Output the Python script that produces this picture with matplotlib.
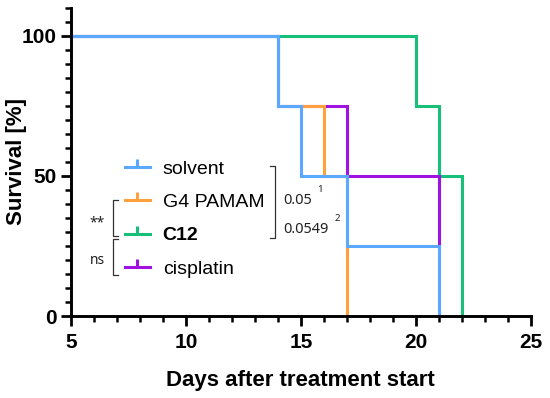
import matplotlib.pyplot as plt
from matplotlib.lines import Line2D
from matplotlib.ticker import MultipleLocator

# survival curves (day of event, survival % after it)
groups = ['solvent', 'G4 PAMAM', 'C12', 'cisplatin']
colors = ['#5aa8ff', '#ffa040', '#16c078', '#a012e0']
days = {
    'solvent':   [5, 14, 15, 17, 21],
    'G4 PAMAM':  [5, 14, 16, 17],
    'C12':       [5, 20, 21, 22],
    'cisplatin': [5, 14, 17, 21],
}
surv = {
    'solvent':   [100, 75, 50, 25, 0],
    'G4 PAMAM':  [100, 75, 50, 0],
    'C12':       [100, 75, 50, 0],
    'cisplatin': [100, 75, 50, 0],
}
pvals = ['0.05', '0.0549']
sig = ['**', 'ns']

plt.rcParams['font.family'] = ['Liberation Sans', 'DejaVu Sans']

fig = plt.figure(figsize=(5.5, 3.98), dpi=100)
ax = fig.add_axes([0.129, 0.206, 0.836, 0.774])

# drawing order: green at the bottom, blue on top
order = ['C12', 'cisplatin', 'G4 PAMAM', 'solvent']
for g in order:
    c = colors[groups.index(g)]
    ax.plot(days[g], surv[g], drawstyle='steps-post', color=c, lw=2.2,
            clip_on=False, solid_joinstyle='miter')

ax.set_xlim(5, 25)
ax.set_ylim(0, 110)
ax.set_xticks([5, 10, 15, 20, 25])
ax.set_yticks([0, 50, 100])
ax.xaxis.set_minor_locator(MultipleLocator(1))
ax.yaxis.set_minor_locator(MultipleLocator(5))
for s in ['top', 'right']:
    ax.spines[s].set_visible(False)
for s in ['left', 'bottom']:
    ax.spines[s].set_linewidth(2.1)
ax.tick_params(which='major', length=7.5, width=2.0, labelsize=15)
ax.tick_params(which='minor', length=4.3, width=1.8)
ax.tick_params(axis='x', which='major', pad=5)
ax.tick_params(axis='y', which='major', pad=3)
for lab in ax.get_xticklabels() + ax.get_yticklabels():
    lab.set_fontweight('bold')
ax.set_xlabel('Days after treatment start', fontsize=16, fontweight='bold')
ax.set_ylabel('Survival [%]', fontsize=16, fontweight='bold')
ax.yaxis.set_label_coords(-0.095, 0.5)
ax.xaxis.set_label_coords(0.5, -0.175)

handles = [Line2D([], [], color=c, lw=2.2, marker=2, markersize=6, markeredgewidth=2.2)
           for c in colors]
leg = ax.legend(handles, groups, loc='upper left', bbox_to_anchor=(0.117, 0.505),
                frameon=False, fontsize=14, handlelength=1.3, handletextpad=0.65,
                labelspacing=0.8, numpoints=1, borderpad=0, borderaxespad=0)
leg.get_texts()[2].set_fontweight('bold')

# comparison brackets (figure pixel coords from top-left)
def px(x, y):
    return x / 550, 1 - y / 398

def bracket(x, y0, y1, d):
    xs = [x + d, x, x, x + d]
    ys = [y0, y0, y1, y1]
    pts = [px(a, b) for a, b in zip(xs, ys)]
    fig.add_artist(Line2D([p[0] for p in pts], [p[1] for p in pts],
                          color='#333333', lw=0.9))

bracket(275, 166, 238, -5)
bracket(113, 200, 236, 5)
bracket(113, 239, 275, 5)

note = dict(family='Noto Sans', color='#222222')
fig.text(*px(283, 201), pvals[0], fontsize=10.5, va='center', **note)
fig.text(*px(317, 189), '1', fontsize=7, va='center', **note)
fig.text(*px(283, 230), pvals[1], fontsize=10.5, va='center', **note)
fig.text(*px(335, 218), '2', fontsize=7, va='center', **note)
fig.text(*px(97, 223), sig[0], fontsize=10, ha='center', va='center', **note)
fig.text(*px(97, 261), sig[1], fontsize=10, ha='center', va='center', **note)

fig.savefig('out.png', dpi=100)
